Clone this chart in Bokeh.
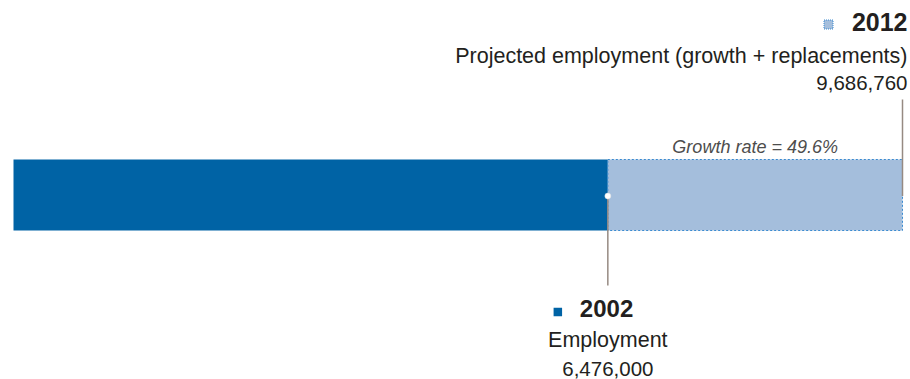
from bokeh.plotting import figure
from bokeh.models import Range1d
from bokeh.core.properties import value
from bokeh.embed import file_html
from bokeh.resources import INLINE

# ---- data ----
years = ["2002", "2012"]
employment = [6476000, 9686760]
descriptions = ["Employment", "Projected employment (growth + replacements)"]
growth_rate = (employment[1] / employment[0] - 1) * 100
growth_label = f"Growth rate = {growth_rate:.1f}%"

# ---- styles ----
DARK = "#0063a5"
LIGHT = "#a4bedc"
DOT_BORDER = "#3a8ad0"
LEADER = "#968a82"
TXT = "#231f20"
FONT = value("Liberation Sans")

W, H = 910, 379
# horizontal mapping: value 0 -> px 13, max value -> px 902
k = employment[1] / (902 - 13)   # data units per pixel
x0 = -13 * k
x1 = x0 + W * k

p = figure(width=W, height=H, output_backend="svg", toolbar_location=None,
           x_range=Range1d(x0, x1), y_range=Range1d(H, 0),
           min_border=0, outline_line_color=None)
p.axis.visible = False
p.grid.visible = False
p.background_fill_color = "white"
p.border_fill_color = "white"

BAR_TOP, BAR_BOT = 159, 230

# bars
p.quad(left=[0], right=[employment[0]], top=[BAR_TOP], bottom=[BAR_BOT],
       fill_color=DARK, line_color=None)
p.quad(left=[employment[0]], right=[employment[1]], top=[BAR_TOP], bottom=[BAR_BOT],
       fill_color=LIGHT, line_color=DOT_BORDER, line_dash="2 2", line_width=1)

# leader lines
MID = (BAR_TOP + BAR_BOT) / 2 + 1
p.segment(x0=[employment[0]], y0=[MID], x1=[employment[0]], y1=[285],
          line_color=LEADER, line_width=1.5)
p.segment(x0=[employment[1]], y0=[99], x1=[employment[1]], y1=[MID],
          line_color=LEADER, line_width=1.5)
p.scatter(x=[employment[0]], y=[MID], size=6, marker="circle",
          fill_color="white", line_color="#dddddd", line_width=0.5)

# growth label
p.text(x=[(employment[0] + employment[1]) / 2], y=[146], text=[growth_label],
       text_align="center", text_baseline="alphabetic", text_font=FONT,
       text_font_style="italic", text_font_size="18px", text_color="#4d4d4d")

# 2012 annotation (right aligned)
p.text(x=[employment[1]], y=[21.5], text=[years[1]], x_offset=5,
       text_align="right", text_baseline="alphabetic", text_font=FONT,
       text_font_style="bold", text_font_size="25px", text_color=TXT)
p.scatter(x=[employment[1] - 74 * k], y=[24], marker="square", size=9,
          fill_color=LIGHT, line_color=DOT_BORDER, line_dash="1 1", line_width=1)
p.text(x=[employment[1]], y=[55], text=[descriptions[1]], x_offset=5,
       text_align="right", text_baseline="alphabetic", text_font=FONT,
       text_font_size="21.5px", text_color=TXT)
p.text(x=[employment[1]], y=[82.5], text=[f"{employment[1]:,}"], x_offset=5,
       text_align="right", text_baseline="alphabetic", text_font=FONT,
       text_font_size="20.5px", text_color=TXT)

# 2002 annotation (centred under leader)
p.scatter(x=[employment[0] - 50 * k], y=[311.5], marker="square", size=8.5,
          fill_color=DARK, line_color=None)
p.text(x=[employment[0]], y=[308], text=[years[0]], x_offset=-28,
       text_align="left", text_baseline="alphabetic", text_font=FONT,
       text_font_style="bold", text_font_size="24px", text_color=TXT)
p.text(x=[employment[0]], y=[339.5], text=[descriptions[0]],
       text_align="center", text_baseline="alphabetic", text_font=FONT,
       text_font_size="21.5px", text_color=TXT)
p.text(x=[employment[0]], y=[368], text=[f"{employment[0]:,}"],
       text_align="center", text_baseline="alphabetic", text_font=FONT,
       text_font_size="20.5px", text_color=TXT)

open("out.html", "w").write(file_html(p, INLINE))
